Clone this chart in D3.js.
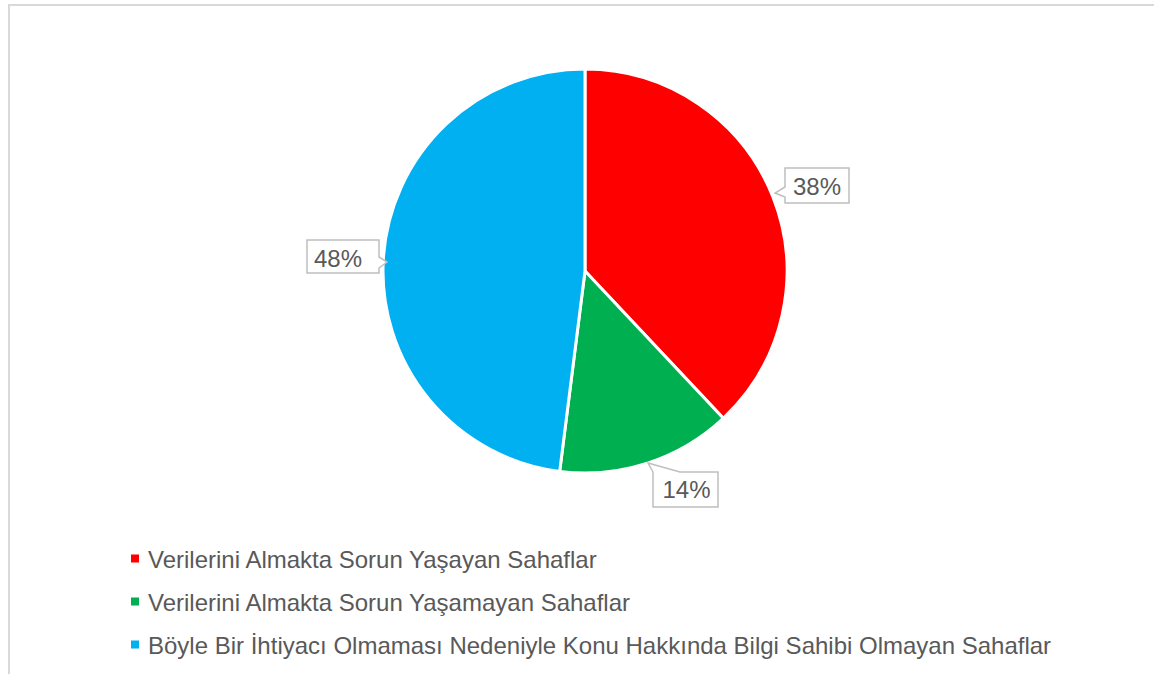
<!DOCTYPE html>
<html>
<head>
<meta charset="utf-8">
<script src="https://cdn.jsdelivr.net/npm/d3@7"></script>
<style>
  body { margin: 0; background: #fff; }
  svg { display: block; font-family: "Liberation Sans", Arial, sans-serif; }
</style>
</head>
<body>
<div id="chart"></div>
<script>
// Data
var categories = [
    "Verilerini Almakta Sorun Yaşayan Sahaflar",
    "Verilerini Almakta Sorun Yaşamayan Sahaflar",
    "Böyle Bir İhtiyacı Olmaması Nedeniyle Konu Hakkında Bilgi Sahibi Olmayan Sahaflar"
];
var values = [38, 14, 48];
var labels = ["38%", "14%", "48%"];
var colors = ["#ff0000", "#00b050", "#00b0f0"];

var svgWidth = 1154, svgHeight = 674;
var svg = d3.select("#chart").append("svg")
    .attr("width", svgWidth)
    .attr("height", svgHeight);

// Chart frame
svg.append("rect")
    .attr("x", 9).attr("y", 5)
    .attr("width", 1160).attr("height", 690)
    .attr("fill", "none")
    .attr("stroke", "#d9d9d9")
    .attr("stroke-width", 2);

var cx = 585, cy = 271, radius = 202;

var pie = d3.pie().sort(null).value(d => d);
var arc = d3.arc().innerRadius(0).outerRadius(radius);
var arcs = pie(values);

var pieGroup = svg.append("g").attr("transform", `translate(${cx}, ${cy})`);

pieGroup.selectAll("path")
    .data(arcs)
    .enter()
    .append("path")
    .attr("d", arc)
    .attr("fill", (d, i) => colors[i])
    .attr("stroke", "#fff")
    .attr("stroke-width", 3);

// Data label callouts (box relative to pie center, tail tip, text center)
var callouts = [
    {x: 200, y: -103, w: 64, h: 35, side: "left", tip: [190, -78], tx: 232, ty: -76},
    {x: 68, y: 201, w: 65, h: 35, side: "top", tip: [63, 192], tx: 101.5, ty: 227},
    {x: -278, y: -31, w: 72, h: 33, side: "right", tip: [-198, -9], tx: -247, ty: -4}
];

callouts.forEach(function(b, i) {
    var x0 = b.x, y0 = b.y, x1 = b.x + b.w, y1 = b.y + b.h;
    var pts;
    if (b.side === "left") {
        pts = [[x0, y0], [x1, y0], [x1, y1], [x0, y1], [x0, y0 + 29], b.tip, [x0, y0 + 19]];
    } else if (b.side === "top") {
        pts = [[x0, y0], b.tip, [x0 + 27, y0], [x1, y0], [x1, y1], [x0, y1]];
    } else {
        pts = [[x0, y0], [x1, y0], [x1, y0 + 17], b.tip, [x1, y0 + 28], [x1, y1], [x0, y1]];
    }
    pieGroup.append("path")
        .attr("d", d3.line()(pts) + "Z")
        .attr("fill", "#fff")
        .attr("stroke", "#bfbfbf")
        .attr("stroke-width", 1.5);
    pieGroup.append("text")
        .attr("x", b.tx)
        .attr("y", b.ty)
        .attr("text-anchor", "middle")
        .attr("font-size", "24px")
        .attr("fill", "#595959")
        .text(labels[i]);
});

// Legend
var legendY = d3.scalePoint()
    .domain(categories)
    .range([558.5, 644.5]);

var legend = svg.append("g");
var rows = legend.selectAll("g")
    .data(categories)
    .enter()
    .append("g")
    .attr("transform", d => `translate(131, ${legendY(d)})`);

rows.append("rect")
    .attr("x", 0).attr("y", -4)
    .attr("width", 8).attr("height", 8)
    .attr("fill", (d, i) => colors[i]);

rows.append("text")
    .attr("x", 17)
    .attr("y", 9.5)
    .attr("font-size", "24px")
    .attr("fill", "#595959")
    .text(d => d);
</script>
</body>
</html>
